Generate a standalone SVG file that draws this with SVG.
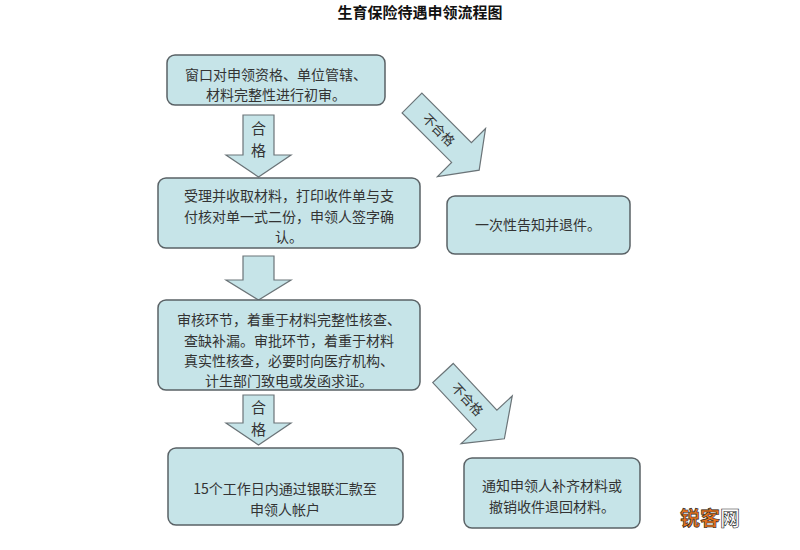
<svg xmlns="http://www.w3.org/2000/svg" width="800" height="550" viewBox="0 0 800 550">
<style>
.box{fill:#c6e4e8;stroke:#5a6266;stroke-width:1.5}
.arr{fill:#c6e4e8;stroke:#6b7478;stroke-width:1.2}
text{font-family:"Noto Sans CJK SC","Liberation Sans",sans-serif;fill:#333;font-size:14px}
.c{text-anchor:middle}
.h{font-size:15px}
</style>
<rect width="800" height="550" fill="#fff"/>
<text x="420" y="18" class="c" style="font-weight:bold;font-size:15px;fill:#111">生育保险待遇申领流程图</text>
<g id="connectors">
<g id="a1"><polygon class="arr" points="243,115 274,115 274,155 291,155 258.5,177 226,155 243,155"/><text x="258.5" y="134" class="c h">合</text><text x="258.5" y="156" class="c h">格</text></g>
<g id="a2"><polygon class="arr" points="243,256 274,256 274,280 291,280 258.5,300 226,280 243,280"/></g>
<g id="a3"><polygon class="arr" points="243,395 274,395 274,423 291,423 258.5,445 226,423 243,423"/><text x="258.5" y="413" class="c h">合</text><text x="258.5" y="435" class="c h">格</text></g>
<g id="d1" transform="translate(412,103) rotate(45)"><polygon class="arr" points="0,-14 70,-14 70,-34 95,0 70,34 70,14 0,14"/><text x="38" y="5" class="c" style="font-size:13px">不合格</text></g>
<g id="d2" transform="translate(443,373) rotate(47)"><polygon class="arr" points="0,-14 64,-14 64,-35 90,0 64,35 64,14 0,14"/><text x="36" y="5" class="c" style="font-size:13px">不合格</text></g>
</g>
<g id="n1"><rect class="box" x="167" y="55" width="218" height="50" rx="8"/><text x="276" y="80" class="c">窗口对申领资格、单位管辖、</text><text x="276" y="100" class="c">材料完整性进行初审。</text></g>
<g id="n2"><rect class="box" x="158" y="178" width="262" height="70" rx="8"/><text x="289" y="201" class="c">受理并收取材料，打印收件单与支</text><text x="289" y="222" class="c">付核对单一式二份，申领人签字确</text><text x="289" y="242" class="c">认。</text></g>
<g id="n3"><rect class="box" x="447" y="196" width="183" height="58" rx="8"/><text x="538" y="230" class="c">一次性告知并退件。</text></g>
<g id="n4"><rect class="box" x="158" y="300" width="262" height="90" rx="8"/><text x="289" y="325" class="c">审核环节，着重于材料完整性核查、</text><text x="289" y="346" class="c">查缺补漏。审批环节，着重于材料</text><text x="289" y="366" class="c">真实性核查，必要时向医疗机构、</text><text x="289" y="386" class="c">计生部门致电或发函求证。</text></g>
<g id="n5"><rect class="box" x="168" y="448" width="235" height="77" rx="8"/><text x="285" y="494" class="c">15个工作日内通过银联汇款至</text><text x="285" y="515" class="c">申领人帐户</text></g>
<g id="n6"><rect class="box" x="464" y="458" width="176" height="70" rx="8"/><text x="552" y="491" class="c">通知申领人补齐材料或</text><text x="552" y="512" class="c">撤销收件退回材料。</text></g>
<text x="680" y="526" style="font-size:20px;font-weight:bold;fill:#e8731c;stroke:#222;stroke-width:0.6">锐客<tspan style="fill:#fff">网</tspan></text>
</svg>
